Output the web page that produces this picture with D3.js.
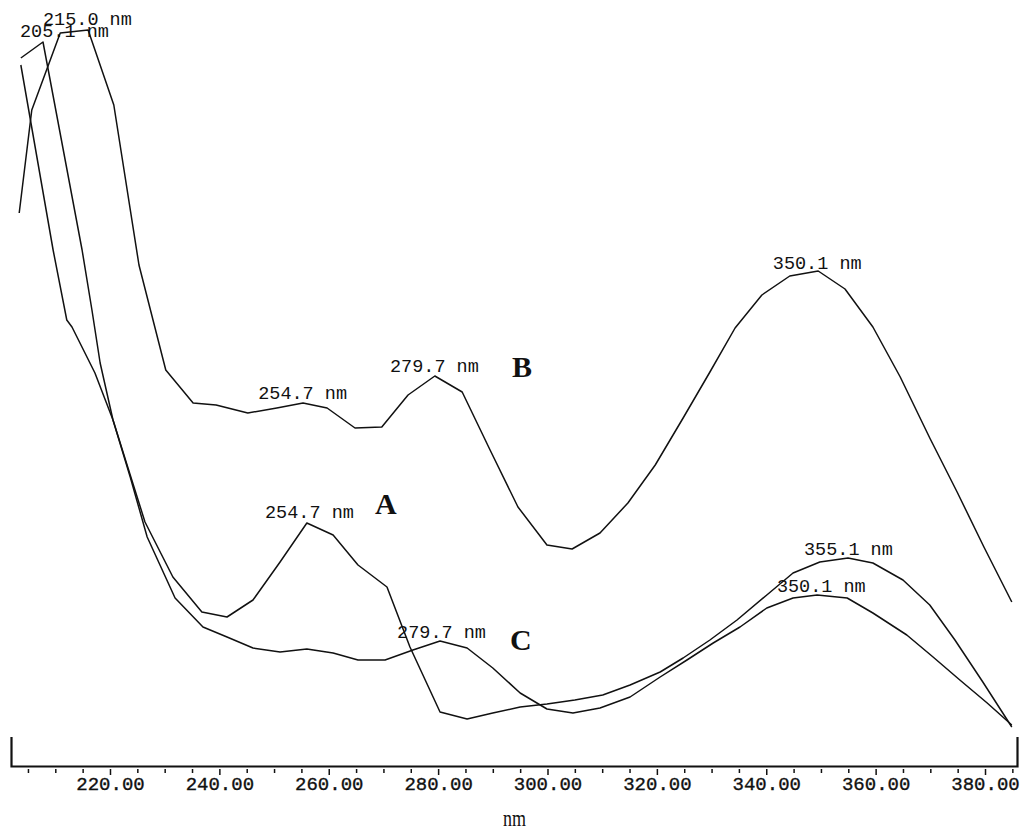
<!DOCTYPE html>
<html>
<head>
<meta charset="utf-8">
<script src="https://cdn.jsdelivr.net/npm/d3@7"></script>
<style>
  html, body { margin: 0; padding: 0; background: #fff; }
  svg { display: block; }
</style>
</head>
<body>
<svg id="chart" width="1021" height="833"></svg>
<script>
// ---- data (wavelength nm, absorbance arbitrary units) ----
const seriesNames = ["A", "B", "C"];

const wavelengthsA = [203.7,207.75,214.9,216.7,218.2,220.55,223.7,226.4,231.5,236.8,241.4,246.15,251.1,256.0,260.8,265.35,270.65,274.85,280.35,285.3,290.0,295.0,299.9,305.0,310.1,315.1,320.6,324.8,329.7,334.65,340.1,344.9,349.8,354.95,359.5,365.0,369.9,374.5,379.6,384.9];
const absorbanceA  = [2.832,2.896,2.064,1.824,1.612,1.384,1.164,0.976,0.756,0.616,0.596,0.664,0.816,0.972,0.924,0.804,0.716,0.476,0.216,0.188,0.212,0.236,0.248,0.264,0.284,0.324,0.376,0.432,0.504,0.584,0.684,0.772,0.816,0.832,0.812,0.744,0.644,0.504,0.336,0.156];

const wavelengthsB = [203.4,205.7,210.9,216.0,220.7,225.3,230.2,235.2,239.4,245.2,250.5,255.3,259.7,264.8,269.7,274.5,279.4,284.4,289.5,294.6,299.9,304.5,309.6,314.7,319.7,324.8,329.7,334.3,339.2,344.3,349.5,354.4,359.5,364.5,369.9,374.9,379.8,384.9];
const absorbanceB  = [2.212,2.624,2.932,2.944,2.644,2.004,1.584,1.452,1.444,1.412,1.432,1.452,1.432,1.352,1.356,1.484,1.560,1.496,1.264,1.036,0.884,0.868,0.932,1.052,1.204,1.392,1.576,1.752,1.884,1.960,1.980,1.908,1.756,1.556,1.312,1.096,0.876,0.656];

const wavelengthsC = [203.7,209.6,212.1,213.05,217.25,220.55,223.7,226.8,231.9,237.0,241.4,246.15,251.1,256.0,260.8,265.35,270.3,275.4,280.35,285.3,290.0,295.0,299.9,304.65,309.6,315.1,320.6,325.5,330.3,335.2,340.1,344.9,349.3,354.8,359.5,365.7,370.5,375.4,380.4,384.9];
const absorbanceC  = [2.804,2.064,1.784,1.756,1.572,1.384,1.156,0.916,0.672,0.556,0.516,0.472,0.456,0.468,0.452,0.424,0.424,0.464,0.500,0.472,0.392,0.292,0.228,0.212,0.232,0.276,0.356,0.424,0.492,0.556,0.632,0.672,0.684,0.672,0.612,0.524,0.436,0.344,0.252,0.164];

// peak annotations: text, anchor wavelength, anchor absorbance
const peakLabels = ["205.1 nm","215.0 nm","254.7 nm","279.7 nm","350.1 nm","254.7 nm","355.1 nm","279.7 nm","350.1 nm"];
const peakLabelNm = [203.55,207.75,247.1,271.2,341.2,248.35,346.9,272.5,341.95];
const peakLabelAbs = [2.916,2.964,1.468,1.576,1.988,0.992,0.844,0.512,0.696];

// curve letters
const letterNm  = [268.45,293.5,293.15];
const letterAbs = [1.008,1.556,0.464];

// axis ticks
const majorTicks = [220,240,260,280,300,320,340,360,380];
const minorTicks = [205,210,215,225,230,235,245,250,255,265,270,275,285,290,295,305,310,315,325,330,335,345,350,355,365,370,375,385];
const axisTitle = "nm";

// ---- drawing ----
const svg = d3.select("#chart");
const x = d3.scaleLinear().domain([201.9, 385.85]).range([11, 1017]);
const y = d3.scaleLinear().domain([0, 3]).range([766, 16]);

const series = [
  {name: "A", nm: wavelengthsA, ab: absorbanceA},
  {name: "B", nm: wavelengthsB, ab: absorbanceB},
  {name: "C", nm: wavelengthsC, ab: absorbanceC}
];
const line = d3.line().x(d => x(d[0])).y(d => y(d[1]));

svg.append("g").selectAll("path")
  .data(series)
  .join("path")
  .attr("d", s => line(s.nm.map((v, i) => [v, s.ab[i]])))
  .attr("fill", "none")
  .attr("stroke", "#111")
  .attr("stroke-width", 1.5)
  .attr("stroke-linejoin", "round");

// axis
const axisY = y(0);
const axis = d3.axisBottom(x)
  .tickValues(majorTicks)
  .tickFormat(d3.format(".2f"))
  .tickSize(9)
  .tickSizeOuter(-29)
  .tickPadding(2);
const gAxis = svg.append("g").attr("transform", `translate(0,${axisY})`).call(axis);
gAxis.select(".domain").attr("stroke", "#111").attr("stroke-width", 2.2);
gAxis.selectAll(".tick line").attr("stroke", "#111").attr("stroke-width", 1.5).attr("y1", 3);
gAxis.selectAll(".tick text")
  .attr("font-family", "'Liberation Mono', 'DejaVu Sans Mono', monospace")
  .attr("font-size", 19)
  .attr("fill", "#111")
  .attr("stroke", "#111")
  .attr("stroke-width", 0.35);

const minorAxis = d3.axisBottom(x).tickValues(minorTicks).tickFormat("").tickSize(7).tickSizeOuter(0);
const gMinor = svg.append("g").attr("transform", `translate(0,${axisY})`).call(minorAxis);
gMinor.select(".domain").remove();
gMinor.selectAll(".tick line").attr("stroke", "#111").attr("stroke-width", 1.5).attr("y1", 3);

svg.append("text")
  .attr("x", (x.range()[0] + x.range()[1]) / 2 - 11)
  .attr("y", 826)
  .attr("font-family", "'Liberation Serif', 'DejaVu Serif', serif")
  .attr("font-size", 24)
  .attr("textLength", 23)
  .attr("lengthAdjust", "spacingAndGlyphs")
  .attr("fill", "#111")
  .text(axisTitle);

// peak labels
svg.append("g").selectAll("text")
  .data(peakLabels)
  .join("text")
  .attr("x", (d, i) => x(peakLabelNm[i]))
  .attr("y", (d, i) => y(peakLabelAbs[i]))
  .attr("font-family", "'Liberation Mono', 'DejaVu Sans Mono', monospace")
  .attr("font-size", 18.5)
  .attr("fill", "#111")
  .text(d => d);

// series letters
svg.append("g").selectAll("text")
  .data(seriesNames)
  .join("text")
  .attr("x", (d, i) => x(letterNm[i]))
  .attr("y", (d, i) => y(letterAbs[i]))
  .attr("font-family", "'Liberation Serif', 'Times New Roman', serif")
  .attr("font-weight", "bold")
  .attr("font-size", 30)
  .attr("fill", "#111")
  .text(d => d);
</script>
</body>
</html>
